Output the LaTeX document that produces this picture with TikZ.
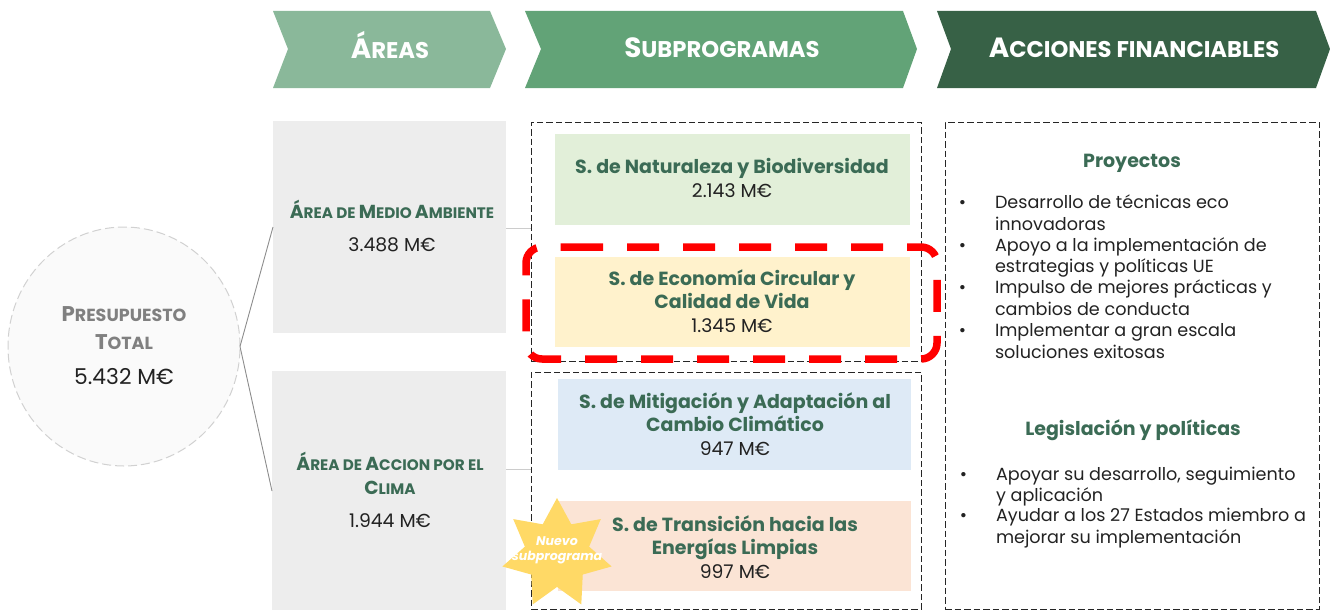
\documentclass[tikz,border=0pt]{standalone}
\usepackage{fontspec}
\setmainfont{Poppins}
\usetikzlibrary{shapes.geometric}
\definecolor{chA}{HTML}{8AB89A}
\definecolor{chB}{HTML}{62A377}
\definecolor{chC}{HTML}{376146}
\definecolor{areagrey}{HTML}{EDEDED}
\definecolor{sgreen}{HTML}{E2EFD9}
\definecolor{syellow}{HTML}{FFF2CC}
\definecolor{sblue}{HTML}{DEEAF6}
\definecolor{speach}{HTML}{FBE4D5}
\definecolor{stargold}{HTML}{FFD966}
\definecolor{titlegreen}{HTML}{3B6B55}
\definecolor{bodyink}{HTML}{222222}
\newcommand{\fs}[2]{{\fontsize{#1}{#1}\selectfont #2}}
\newcommand{\hdr}[2]{\fs{27.8}{#1}\fs{22.7}{#2}}
\newcommand{\are}[2]{\fs{18.8}{#1}\fs{15.2}{#2}}
\tikzset{
  x=1pt,y=-1pt,
  txt/.style={inner sep=0pt,outer sep=0pt,align=center,text=bodyink,font=\fontsize{18.8}{23.3}\selectfont},
  hdrtxt/.style={inner sep=0pt,anchor=base,text=white,font=\bfseries},
  bul/.style={inner sep=0pt,outer sep=0pt,anchor=west,align=left,text=bodyink,font=\fontsize{17.6}{21.4}\selectfont},
  head/.style={inner sep=0pt,text=titlegreen,font=\fontsize{19}{21}\selectfont\bfseries},
  dbox/.style={draw=black!85,line width=1pt,dash pattern=on 6.5pt off 3pt},
  sbox/.style={inner sep=0pt,outer sep=0pt,anchor=north west},
  conn/.style={draw=black!45,line width=0.9pt},
  faint/.style={draw=black!20,line width=0.8pt},
}
\newcommand{\st}[1]{{\bfseries\color{titlegreen}\fontsize{19}{23.3}\selectfont #1}}
\begin{document}
\begin{tikzpicture}
\useasboundingbox (0,0) rectangle (1330,610);
% chevrons
\fill[chA] (273,11)--(490,11)--(506,49)--(490,88)--(273,88)--(288,49)--cycle;
\fill[chB] (525,11)--(903,11)--(917,49)--(903,88)--(525,88)--(541,49)--cycle;
\fill[chC] (937,11)--(1316,11)--(1330,49)--(1316,88)--(937,88)--(951,49)--cycle;
\node[hdrtxt] (h1) at (390,59) {\hdr{Á}{REAS}};
\node[hdrtxt] (h2) at (722,58) {\hdr{S}{UBPROGRAMAS}};
\node[hdrtxt] (h3) at (1134,58) {\hdr{A}{CCIONES FINANCIABLES}};
% areas
\node[sbox,fill=areagrey,minimum width=233pt,minimum height=212pt] (a1) at (273,121) {};
\node[sbox,fill=areagrey,minimum width=234pt,minimum height=239pt] (a2) at (272,371) {};
% circle
\node[ellipse,draw=black!18,dash pattern=on 9pt off 4pt,line width=1pt,fill=black!2,minimum width=232pt,minimum height=239pt,inner sep=0pt,outer sep=0pt] (tot) at (124,346.5) {};
\coordinate (a1in) at (273,227);
\coordinate (a2in) at (272,491);
\draw[conn] (tot.east) -- (a1in);
\draw[conn] (tot.east) -- (a2in);
% dashed boxes
\node[sbox,dbox,minimum width=390pt,minimum height=239pt] (d1) at (531,122) {};
\node[sbox,dbox,minimum width=390pt,minimum height=237pt] (d2) at (531,372) {};
\node[sbox,dbox,minimum width=374pt,minimum height=487pt] (d3) at (945,122) {};
\coordinate (a1out) at (506,228);
\coordinate (a2out) at (506,469);
\coordinate (d1in) at (531,228);
\coordinate (d2in) at (531,469);
\draw[faint] (a1out) -- (d1in);
\draw[faint] (a2out) -- (d2in);
% subprogram boxes
\node[sbox,fill=sgreen,minimum width=355pt,minimum height=91pt] (s1) at (555,134) {};
\node[sbox,fill=syellow,minimum width=355pt,minimum height=90pt] (s2) at (555,257) {};
\node[sbox,fill=sblue,minimum width=353pt,minimum height=91pt] (s3) at (558,379) {};
\node[sbox,fill=speach,minimum width=353pt,minimum height=90pt] (s4) at (558,501) {};
% red highlight
\draw[draw=red,line width=7.5pt,dash pattern=on 32pt off 24pt]
  (571,247) -- (921,247) arc[start angle=90,end angle=0,radius=16pt] -- (937,343) arc[start angle=0,end angle=-90,radius=16pt] -- (542,359) arc[start angle=270,end angle=180,radius=16pt] -- (526,263) arc[start angle=180,end angle=90,radius=16pt] -- cycle;
% star
\node[star,star points=7,star point ratio=1.7,fill=stargold,minimum size=112pt,inner sep=0pt,outer sep=0pt] (badge) at (557,554) {};
% texts
\node[txt,anchor=center] (t0) at (124,346) {\textcolor{black!50}{\bfseries\fs{21.3}{P}\fs{17.5}{RESUPUESTO}}\\[4.5pt]\textcolor{black!50}{\bfseries\fs{21.3}{T}\fs{17.5}{OTAL}}\\[12pt]\fs{21.8}{5.432 M€}};
\node[txt] (t1) at (392,226) {\st{\are{Á}{REA DE }\are{M}{EDIO }\are{A}{MBIENTE}}\\[10pt]3.488 M€};
\node[txt] (t2) at (390,490) {\st{\are{Á}{REA DE }\are{A}{CCION POR EL}}\\\st{\are{C}{LIMA}}\\[10pt]1.944 M€};
\node[txt] (t3) at (732,178) {\st{S. de Naturaleza y Biodiversidad}\\2.143 M€};
\node[txt] (t4) at (732,301) {\st{S. de Economía Circular y}\\\st{Calidad de Vida}\\1.345 M€};
\node[txt] (t5) at (735,424) {\st{S. de Mitigación y Adaptación al}\\\st{Cambio Climático}\\947 M€};
\node[txt] (t6) at (735,547) {\st{S. de Transición hacia las}\\\st{Energías Limpias}\\997 M€};
\node[inner sep=0pt,align=center,text=white,font=\fontsize{12.6}{15}\selectfont\bfseries\itshape] (t7) at (557,550) {Nuevo\\subprograma};
% right column
\node[head] (p1) at (1132,163) {Proyectos};
\node[head] (p2) at (1133,430.5) {Legislación y políticas};
\node[bul] (b1) at (995,212.5) {\llap{•\hspace{29pt}}Desarrollo de técnicas eco\\innovadoras};
\node[bul] (b2) at (995,257.5) {\llap{•\hspace{29pt}}Apoyo a la implementación de\\estrategias y políticas UE};
\node[bul] (b3) at (995,297.5) {\llap{•\hspace{29pt}}Impulso de mejores prácticas y\\cambios de conducta};
\node[bul] (b4) at (995,341) {\llap{•\hspace{29pt}}Implementar a gran escala\\soluciones exitosas};
\node[bul] (b5) at (996,486.5) {\llap{•\hspace{29pt}}Apoyar su desarrollo, seguimiento\\y aplicación};
\node[bul] (b6) at (996,528) {\llap{•\hspace{29pt}}Ayudar a los 27 Estados miembro a\\mejorar su implementación};
\end{tikzpicture}
\end{document}
